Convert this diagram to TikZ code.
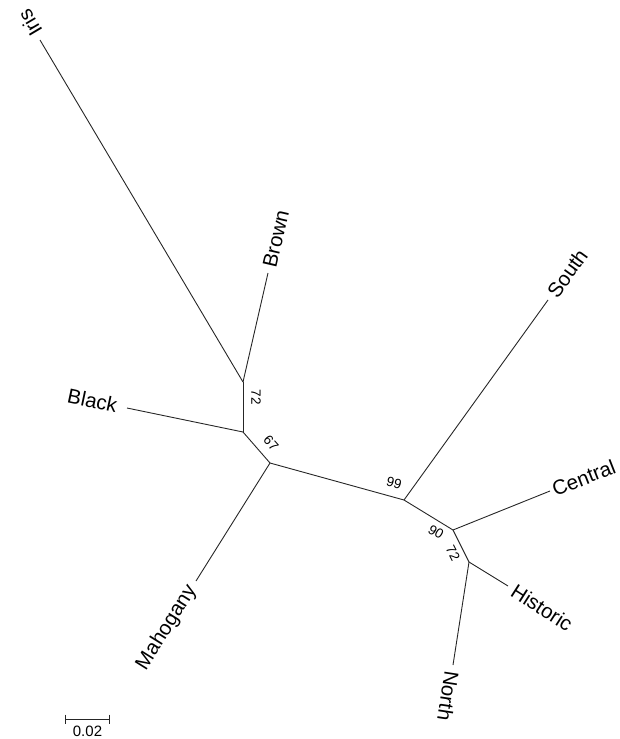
\documentclass[tikz,border=0pt]{standalone}
\usepackage{fontspec}
\setmainfont{Liberation Sans}
\usetikzlibrary{calc}
\begin{document}
\begin{tikzpicture}[x=1pt,y=-1pt,
  branch/.style={line width=0.9pt, draw=black!85},
  leaflabel/.style={font=\fontsize{20.5}{20.5}\selectfont, inner sep=0pt},
  boot/.style={font=\fontsize{13.5}{13.5}\selectfont, inner sep=0pt},
  scalelabel/.style={font=\fontsize{15}{15}\selectfont, inner sep=0pt}]
\useasboundingbox (0,0) rectangle (619,739);
% internal nodes
\coordinate (A) at (243,382);
\coordinate (B) at (243,432);
\coordinate (C) at (270,463);
\coordinate (D) at (404,500);
\coordinate (E) at (453,530);
\coordinate (F) at (469,562);
% leaves
\coordinate (Iris) at (40,40);
\coordinate (Brown) at (268,273);
\coordinate (Black) at (127,408);
\coordinate (Mah) at (196,581);
\coordinate (South) at (548,300);
\coordinate (Central) at (550,491);
\coordinate (Historic) at (508,586);
\coordinate (North) at (453,665);
% branches
\draw[branch] (A) -- (Iris);
\draw[branch] (A) -- (Brown);
\draw[branch] (A) -- (B);
\draw[branch] (B) -- (Black);
\draw[branch] (B) -- (C);
\draw[branch] (C) -- (Mah);
\draw[branch] (C) -- (D);
\draw[branch] (D) -- (South);
\draw[branch] (D) -- (E);
\draw[branch] (E) -- (Central);
\draw[branch] (E) -- (F);
\draw[branch] (F) -- (Historic);
\draw[branch] (F) -- (North);
% leaf labels
\node[leaflabel, rotate=120.7, anchor=west] (lIris) at ($(Iris)!-6pt!(A)$) {Iris};
\node[leaflabel, rotate=77, anchor=west] (lBrown) at ($(Brown)!-6pt!(A)$) {Brown};
\node[leaflabel, rotate=-12, anchor=east] (lBlack) at ($(Black)!-10pt!(B)$) {Black};
\node[leaflabel, rotate=58, anchor=east] (lMah) at ($(Mah)!-7pt!(C)$) {Mahogany};
\node[leaflabel, rotate=54.2, anchor=west] (lSouth) at ($(South)!-6pt!(D)$) {South};
\node[leaflabel, rotate=21.4, anchor=west] (lCentral) at ($(Central)!-3pt!(E)$) {Central};
\node[leaflabel, rotate=-32.7, anchor=west] (lHistoric) at ($(Historic)!-6pt!(F)$) {Historic};
\node[leaflabel, rotate=-98.7, anchor=west] (lNorth) at ($(North)!-6pt!(F)$) {North};
% bootstrap values
\node[boot, rotate=-90] (b72a) at (256,397) {72};
\node[boot, rotate=-48] (b67) at (271,443) {67};
\node[boot, rotate=-15.4] (b99) at (394,483) {99};
\node[boot, rotate=-31.5] (b90) at (436,532) {90};
\node[boot, rotate=-63] (b72b) at (453,553) {72};
% scale bar
\coordinate (s1) at (65,719);
\coordinate (s2) at (109,719);
\draw[branch] (s1) -- (s2);
\draw[branch] ([yshift=4.5pt]s1) -- ([yshift=-4.5pt]s1);
\draw[branch] ([yshift=4.5pt]s2) -- ([yshift=-4.5pt]s2);
\node[scalelabel, anchor=base] (sl) at (87.5,736.5) {0.02};
\end{tikzpicture}
\end{document}
